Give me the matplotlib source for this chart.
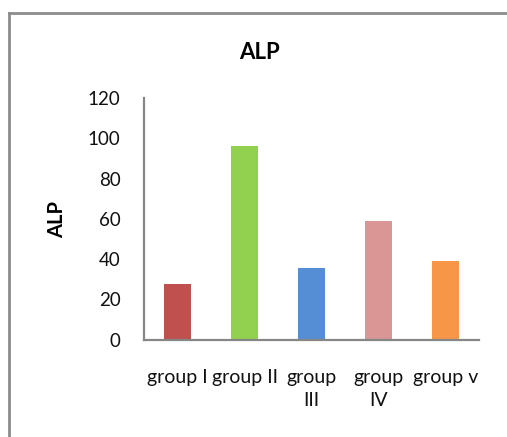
import matplotlib.pyplot as plt
from matplotlib.lines import Line2D

# ---------------- DATA ----------------
groups = ["group I", "group II", "group\nIII", "group\nIV", "group v"]
alp_values = [27.6, 96, 35.5, 59, 39]
bar_colors = ["#C0504D", "#92D050", "#558ED5", "#D99694", "#F79646"]

plt.rcParams['font.family'] = ['Lato', 'DejaVu Sans']

# ---------------- PLOT ----------------
fig = plt.figure(figsize=(5.07, 4.37), dpi=100)
ax = fig.add_axes([0.284, 0.2231, 0.661, 0.5526])

positions = list(range(len(groups)))
ax.bar(positions, alp_values, width=0.4, color=bar_colors)

ax.set_xlim(-0.5, len(groups) - 0.5)
ax.set_ylim(0, 120)
ax.set_yticks(range(0, 121, 20))
ax.set_xticks(positions)
ax.set_xticklabels(groups, fontsize=14, linespacing=1.45, color='#111111')
ax.tick_params(axis='y', length=0, pad=17, labelsize=13.5, labelcolor='#111111')
ax.tick_params(axis='x', length=0, pad=21)

for side in ['top', 'right']:
    ax.spines[side].set_visible(False)
for side in ['left', 'bottom']:
    ax.spines[side].set_color('#868686')
    ax.spines[side].set_linewidth(1.6)

fig.text(0.511, 0.881, "ALP", fontsize=16, fontweight='bold',
         ha='center', va='center')
fig.text(0.112, 0.497, "ALP", fontsize=14.5, fontweight='bold',
         rotation=90, ha='center', va='center')

# chart frame (top and left edges)
fig.add_artist(Line2D([0.0178, 1.0], [0.970, 0.970], color='#8C8C8C', linewidth=2))
fig.add_artist(Line2D([0.0178, 0.0178], [0.0, 0.970], color='#8C8C8C', linewidth=2))

fig.savefig("out.png", dpi=100)
